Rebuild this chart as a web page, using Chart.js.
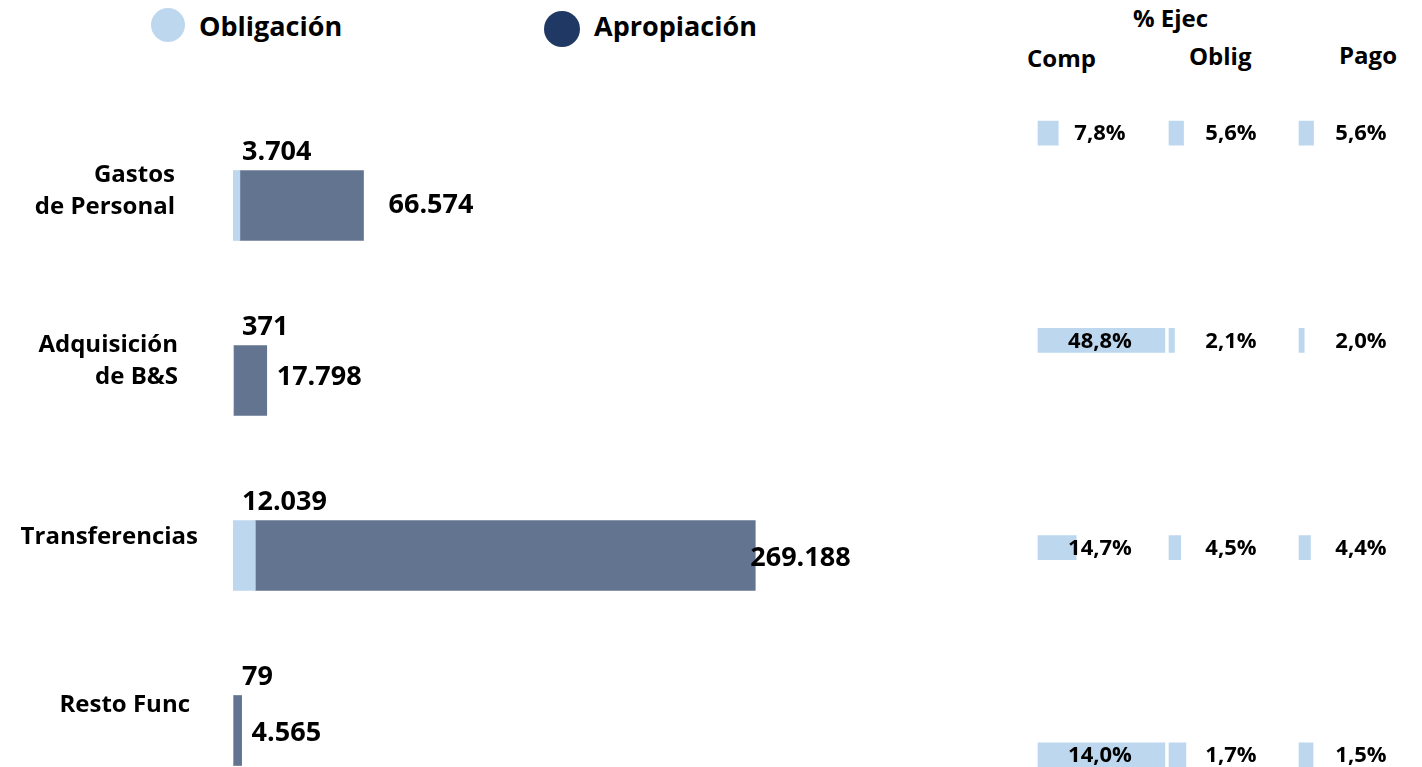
<!DOCTYPE html>
<html>
<head>
<meta charset="utf-8">
<script src="https://cdn.jsdelivr.net/npm/chart.js@4"></script>
<style>
  html, body { margin: 0; padding: 0; background: #fff; overflow: hidden; }
  body { width: 1422px; height: 767px; position: relative; font-family: 'Open Sans', sans-serif; font-weight: 700; color: #000; }
  .abs { position: absolute; white-space: nowrap; }
  .dot { position: absolute; border-radius: 50%; }
  #mainWrap { position: absolute; left: 0; top: 0; width: 1000px; height: 830px; }
  #pctWrap { position: absolute; left: 1000px; top: 0; width: 422px; height: 880px; }
</style>
</head>
<body>
<div class="dot" style="left:151px;top:8px;width:34px;height:34px;background:#BDD7EE"></div>
<div class="abs" style="left:199px;top:8px;font-size:27px;line-height:36px">Obligación</div>
<div class="dot" style="left:544px;top:11px;width:36px;height:36px;background:#203864"></div>
<div class="abs" style="left:594px;top:8px;font-size:27px;line-height:36px">Apropiación</div>

<div class="abs" style="left:1133px;top:2px;font-size:24px;line-height:32px">% Ejec</div>
<div class="abs" style="left:1027px;top:42px;font-size:24px;line-height:32px">Comp</div>
<div class="abs" style="left:1189px;top:40px;font-size:24px;line-height:32px">Oblig</div>
<div class="abs" style="left:1339px;top:39px;font-size:24px;line-height:32px">Pago</div>

<div id="mainWrap"><canvas id="mainChart"></canvas></div>
<div id="pctWrap"><canvas id="pctChart"></canvas></div>

<script>
// categories and values (millions)
const categories = [['Gastos', 'de Personal'], ['Adquisición', 'de B&S'], ['Transferencias'], ['Resto Func']];
const obligacion = [3704, 371, 12039, 79];
const apropiacion = [66574, 17798, 269188, 4565];

// % execution columns (label text and bar length as drawn)
const compLabels = ['7,8%', '48,8%', '14,7%', '14,0%'];
const obligLabels = ['5,6%', '2,1%', '4,5%', '1,7%'];
const pagoLabels = ['5,6%', '2,0%', '4,4%', '1,5%'];
const compBars = [7.8, 48.8, 14.7, 48.8];
const obligBars = [5.6, 2.1, 4.5, 6.5];
const pagoBars = [5.6, 2.0, 4.4, 5.4];

const LIGHT = '#BDD7EE';
const DARK = '#637491';
const FONT = "'Open Sans', sans-serif";

const fmt = v => v.toLocaleString('de-DE');

// label placement tweaks (pixels)
const catRight = [175, 178, 198, 190];
const catShift = [-14, -19, -18, -25];
const apShift = [25, 10, -5, 10];
const apDy = [0, -3, 3, 3];

const mainLabels = {
  id: 'mainLabels',
  afterDatasetsDraw(chart) {
    const ctx = chart.ctx;
    const x = chart.scales.x, y = chart.scales.y;
    ctx.save();
    ctx.fillStyle = '#000';
    ctx.textBaseline = 'middle';
    categories.forEach((lines, i) => {
      const cy = y.getPixelForValue(i);
      // category name
      ctx.font = 'bold 24px ' + FONT;
      ctx.textAlign = 'right';
      const lh = 32;
      const top = cy + catShift[i] - (lines.length - 1) * lh / 2;
      lines.forEach((t, k) => ctx.fillText(t, catRight[i], top + k * lh));
      // obligation value above bar
      ctx.font = 'bold 27px ' + FONT;
      ctx.textAlign = 'left';
      const x0 = x.getPixelForValue(0);
      ctx.fillText(fmt(obligacion[i]), x0 + 9, cy - 53);
      // appropriation value after the bar end
      const xe = x.getPixelForValue(obligacion[i] + apropiacion[i]);
      ctx.fillText(fmt(apropiacion[i]), xe + apShift[i], cy + apDy[i]);
    });
    ctx.restore();
  }
};

new Chart(document.getElementById('mainChart'), {
  type: 'bar',
  data: {
    labels: categories.map(c => c.join(' ')),
    datasets: [
      { label: 'Obligación', data: obligacion, backgroundColor: LIGHT, barThickness: 70 },
      { label: 'Apropiación', data: apropiacion, backgroundColor: DARK, barThickness: 70 }
    ]
  },
  options: {
    indexAxis: 'y',
    responsive: true,
    maintainAspectRatio: false,
    animation: false,
    layout: { padding: { left: 233, right: 0, top: 118, bottom: 12 } },
    plugins: { legend: { display: false }, tooltip: { enabled: false } },
    scales: {
      x: { stacked: true, display: false, min: 0, max: 413000 },
      y: { stacked: true, display: false }
    }
  },
  plugins: [mainLabels]
});

const colLabels = [compLabels, obligLabels, pagoLabels];
const axisIds = ['xc', 'xo', 'xp'];

const pctLabels = {
  id: 'pctLabels',
  afterDatasetsDraw(chart) {
    const ctx = chart.ctx;
    const y = chart.scales.y;
    ctx.save();
    ctx.fillStyle = '#000';
    ctx.font = 'bold 22px ' + FONT;
    ctx.textAlign = 'center';
    ctx.textBaseline = 'middle';
    colLabels.forEach((labels, c) => {
      const x0 = chart.scales[axisIds[c]].getPixelForValue(0);
      labels.forEach((t, i) => ctx.fillText(t, x0 + 62, y.getPixelForValue(i) + 1));
    });
    ctx.restore();
  }
};

const pxPerPct = 2.6;
const colOrigin = [38, 169, 299];
const pctAxis = o => ({ display: false, min: -o / pxPerPct, max: (422 - o) / pxPerPct });

new Chart(document.getElementById('pctChart'), {
  type: 'bar',
  data: {
    labels: categories.map(c => c.join(' ')),
    datasets: [
      { label: 'Comp', data: compBars, xAxisID: 'xc', backgroundColor: LIGHT, barThickness: 24, grouped: false },
      { label: 'Oblig', data: obligBars, xAxisID: 'xo', backgroundColor: LIGHT, barThickness: 24, grouped: false },
      { label: 'Pago', data: pagoBars, xAxisID: 'xp', backgroundColor: LIGHT, barThickness: 24, grouped: false }
    ]
  },
  options: {
    indexAxis: 'y',
    responsive: true,
    maintainAspectRatio: false,
    animation: false,
    layout: { padding: { left: 0, right: 0, top: 29.5, bottom: 21.5 } },
    plugins: { legend: { display: false }, tooltip: { enabled: false } },
    scales: {
      xc: pctAxis(colOrigin[0]),
      xo: pctAxis(colOrigin[1]),
      xp: pctAxis(colOrigin[2]),
      y: { display: false }
    }
  },
  plugins: [pctLabels]
});
</script>
</body>
</html>
